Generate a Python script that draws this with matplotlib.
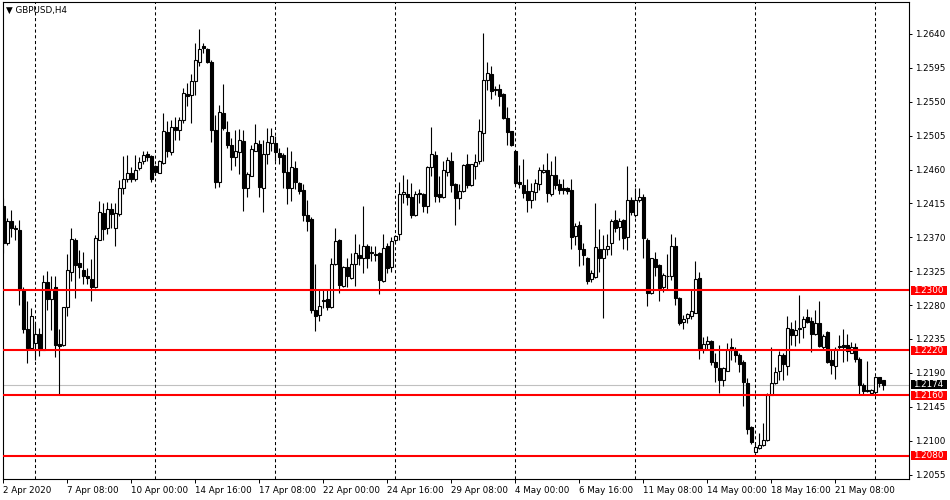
import numpy as np
import matplotlib.pyplot as plt
from matplotlib.patches import Rectangle
from matplotlib.transforms import blended_transform_factory

# GBPUSD H4 candles (open, high, low, close)
opens = [1.2412, 1.2362, 1.2391, 1.2383, 1.2380, 1.2300, 1.2248, 1.2223, 1.2229, 1.2241,
         1.2221, 1.2310, 1.2288, 1.2304, 1.2228, 1.2227, 1.2277, 1.2324, 1.2366, 1.2336,
         1.2327, 1.2319, 1.2315, 1.2304, 1.2367, 1.2402, 1.2383, 1.2407, 1.2382, 1.2401,
         1.2435, 1.2448, 1.2456, 1.2447, 1.2462, 1.2471, 1.2480, 1.2478, 1.2465, 1.2456,
         1.2469, 1.2510, 1.2483, 1.2516, 1.2513, 1.2526, 1.2560, 1.2559, 1.2578, 1.2603,
         1.2624, 1.2620, 1.2603, 1.2513, 1.2444, 1.2535, 1.2510, 1.2492, 1.2476, 1.2483,
         1.2498, 1.2436, 1.2452, 1.2485, 1.2494, 1.2436, 1.2480, 1.2495, 1.2495, 1.2482,
         1.2479, 1.2457, 1.2436, 1.2462, 1.2442, 1.2433, 1.2400, 1.2394, 1.2273, 1.2267,
         1.2287, 1.2288, 1.2278, 1.2334, 1.2366, 1.2306, 1.2330, 1.2316, 1.2334, 1.2347,
         1.2343, 1.2358, 1.2350, 1.2348, 1.2349, 1.2312, 1.2358, 1.2330, 1.2366, 1.2374,
         1.2427, 1.2428, 1.2423, 1.2399, 1.2429, 1.2428, 1.2411, 1.2464, 1.2479, 1.2427,
         1.2423, 1.2457, 1.2471, 1.2441, 1.2422, 1.2431, 1.2468, 1.2439, 1.2465, 1.2471,
         1.2509, 1.2579, 1.2587, 1.2567, 1.2567, 1.2560, 1.2529, 1.2511, 1.2484, 1.2444,
         1.2440, 1.2431, 1.2420, 1.2430, 1.2441, 1.2457, 1.2460, 1.2428, 1.2453, 1.2441,
         1.2436, 1.2435, 1.2433, 1.2372, 1.2386, 1.2354, 1.2343, 1.2314, 1.2317, 1.2355,
         1.2343, 1.2354, 1.2362, 1.2393, 1.2384, 1.2393, 1.2370, 1.2419, 1.2399, 1.2419,
         1.2423, 1.2367, 1.2296, 1.2341, 1.2333, 1.2304, 1.2318, 1.2319, 1.2358, 1.2289,
         1.2257, 1.2263, 1.2265, 1.2270, 1.2316, 1.2222, 1.2228, 1.2232, 1.2204, 1.2197,
         1.2180, 1.2193, 1.2225, 1.2219, 1.2214, 1.2205, 1.2177, 1.2118, 1.2085, 1.2090,
         1.2094, 1.2101, 1.2161, 1.2176, 1.2193, 1.2214, 1.2199, 1.2248, 1.2240, 1.2248,
         1.2251, 1.2264, 1.2259, 1.2241, 1.2256, 1.2225, 1.2244, 1.2207, 1.2199, 1.2224,
         1.2227, 1.2227, 1.2217, 1.2224, 1.2209, 1.2174, 1.2167, 1.2163, 1.2164, 1.2184,
         1.2180]
highs = [1.2422, 1.2396, 1.2406, 1.2386, 1.2393, 1.2304, 1.2285, 1.2276, 1.2256, 1.2249,
         1.2320, 1.2325, 1.2318, 1.2318, 1.2248, 1.2278, 1.2348, 1.2382, 1.2369, 1.2353,
         1.2350, 1.2329, 1.2341, 1.2373, 1.2418, 1.2415, 1.2417, 1.2415, 1.2415, 1.2446,
         1.2478, 1.2479, 1.2464, 1.2479, 1.2477, 1.2484, 1.2484, 1.2479, 1.2466, 1.2473,
         1.2535, 1.2524, 1.2526, 1.2530, 1.2530, 1.2568, 1.2575, 1.2587, 1.2628, 1.2646,
         1.2628, 1.2621, 1.2606, 1.2533, 1.2546, 1.2573, 1.2525, 1.2502, 1.2513, 1.2514,
         1.2513, 1.2457, 1.2493, 1.2521, 1.2499, 1.2499, 1.2515, 1.2515, 1.2504, 1.2488,
         1.2482, 1.2490, 1.2485, 1.2471, 1.2444, 1.2441, 1.2420, 1.2397, 1.2335, 1.2302,
         1.2302, 1.2302, 1.2342, 1.2383, 1.2368, 1.2332, 1.2342, 1.2349, 1.2374, 1.2361,
         1.2412, 1.2361, 1.2358, 1.2358, 1.2350, 1.2375, 1.2363, 1.2370, 1.2373, 1.2444,
         1.2453, 1.2448, 1.2442, 1.2431, 1.2434, 1.2429, 1.2465, 1.2516, 1.2485, 1.2452,
         1.2471, 1.2477, 1.2483, 1.2442, 1.2441, 1.2468, 1.2480, 1.2468, 1.2480, 1.2527,
         1.2641, 1.2603, 1.2598, 1.2571, 1.2573, 1.2562, 1.2543, 1.2511, 1.2485, 1.2466,
         1.2474, 1.2448, 1.2442, 1.2447, 1.2464, 1.2468, 1.2482, 1.2471, 1.2478, 1.2448,
         1.2448, 1.2437, 1.2448, 1.2389, 1.2392, 1.2362, 1.2344, 1.2327, 1.2415, 1.2381,
         1.2373, 1.2375, 1.2394, 1.2406, 1.2395, 1.2394, 1.2465, 1.2424, 1.2435, 1.2435,
         1.2428, 1.2369, 1.2343, 1.2351, 1.2335, 1.2322, 1.2348, 1.2375, 1.2371, 1.2291,
         1.2267, 1.2270, 1.2300, 1.2338, 1.2324, 1.2238, 1.2239, 1.2234, 1.2216, 1.2227,
         1.2198, 1.2230, 1.2236, 1.2225, 1.2216, 1.2207, 1.2183, 1.2119, 1.2098, 1.2110,
         1.2124, 1.2163, 1.2224, 1.2198, 1.2219, 1.2216, 1.2266, 1.2258, 1.2260, 1.2293,
         1.2265, 1.2275, 1.2264, 1.2274, 1.2286, 1.2242, 1.2245, 1.2220, 1.2225, 1.2240,
         1.2248, 1.2242, 1.2231, 1.2230, 1.2211, 1.2176, 1.2206, 1.2169, 1.2186, 1.2185,
         1.2181]
lows = [1.2349, 1.2360, 1.2371, 1.2366, 1.2280, 1.2243, 1.2203, 1.2221, 1.2207, 1.2213,
        1.2220, 1.2273, 1.2247, 1.2211, 1.2162, 1.2226, 1.2266, 1.2312, 1.2290, 1.2316,
        1.2308, 1.2308, 1.2285, 1.2303, 1.2366, 1.2367, 1.2375, 1.2382, 1.2358, 1.2398,
        1.2428, 1.2443, 1.2443, 1.2445, 1.2460, 1.2468, 1.2471, 1.2444, 1.2453, 1.2455,
        1.2468, 1.2477, 1.2479, 1.2499, 1.2499, 1.2522, 1.2544, 1.2522, 1.2559, 1.2598,
        1.2615, 1.2601, 1.2497, 1.2435, 1.2437, 1.2513, 1.2488, 1.2459, 1.2465, 1.2454,
        1.2405, 1.2424, 1.2451, 1.2484, 1.2423, 1.2404, 1.2467, 1.2484, 1.2471, 1.2468,
        1.2435, 1.2414, 1.2418, 1.2434, 1.2427, 1.2391, 1.2378, 1.2270, 1.2245, 1.2259,
        1.2276, 1.2274, 1.2276, 1.2333, 1.2296, 1.2304, 1.2304, 1.2315, 1.2306, 1.2333,
        1.2322, 1.2329, 1.2338, 1.2338, 1.2295, 1.2310, 1.2323, 1.2324, 1.2364, 1.2366,
        1.2415, 1.2413, 1.2396, 1.2398, 1.2415, 1.2403, 1.2402, 1.2451, 1.2417, 1.2417,
        1.2422, 1.2452, 1.2430, 1.2386, 1.2408, 1.2430, 1.2435, 1.2438, 1.2448, 1.2468,
        1.2471, 1.2566, 1.2553, 1.2559, 1.2545, 1.2527, 1.2493, 1.2491, 1.2439, 1.2436,
        1.2422, 1.2403, 1.2409, 1.2420, 1.2433, 1.2455, 1.2417, 1.2425, 1.2434, 1.2428,
        1.2428, 1.2428, 1.2354, 1.2360, 1.2332, 1.2333, 1.2308, 1.2310, 1.2316, 1.2324,
        1.2263, 1.2347, 1.2346, 1.2377, 1.2366, 1.2355, 1.2353, 1.2400, 1.2397, 1.2417,
        1.2342, 1.2279, 1.2295, 1.2318, 1.2285, 1.2298, 1.2300, 1.2313, 1.2280, 1.2253,
        1.2248, 1.2256, 1.2262, 1.2269, 1.2208, 1.2216, 1.2220, 1.2200, 1.2178, 1.2163,
        1.2172, 1.2192, 1.2207, 1.2205, 1.2191, 1.2146, 1.2109, 1.2096, 1.2084, 1.2089,
        1.2093, 1.2100, 1.2160, 1.2175, 1.2180, 1.2180, 1.2187, 1.2227, 1.2226, 1.2230,
        1.2236, 1.2256, 1.2218, 1.2240, 1.2225, 1.2222, 1.2203, 1.2189, 1.2182, 1.2220,
        1.2204, 1.2206, 1.2216, 1.2205, 1.2160, 1.2160, 1.2165, 1.2162, 1.2162, 1.2171,
        1.2167]
closes = [1.2362, 1.2392, 1.2383, 1.2381, 1.2300, 1.2248, 1.2223, 1.2266, 1.2241, 1.2221,
          1.2310, 1.2288, 1.2302, 1.2227, 1.2226, 1.2277, 1.2327, 1.2368, 1.2333, 1.2330,
          1.2319, 1.2316, 1.2304, 1.2369, 1.2403, 1.2381, 1.2407, 1.2401, 1.2402, 1.2436,
          1.2447, 1.2456, 1.2447, 1.2460, 1.2470, 1.2479, 1.2476, 1.2448, 1.2457, 1.2471,
          1.2511, 1.2484, 1.2516, 1.2513, 1.2526, 1.2561, 1.2558, 1.2578, 1.2606, 1.2620,
          1.2621, 1.2603, 1.2513, 1.2444, 1.2536, 1.2515, 1.2493, 1.2476, 1.2484, 1.2499,
          1.2436, 1.2454, 1.2487, 1.2495, 1.2437, 1.2480, 1.2496, 1.2505, 1.2483, 1.2477,
          1.2457, 1.2436, 1.2463, 1.2444, 1.2432, 1.2399, 1.2392, 1.2274, 1.2265, 1.2279,
          1.2285, 1.2277, 1.2335, 1.2365, 1.2307, 1.2330, 1.2318, 1.2335, 1.2349, 1.2342,
          1.2358, 1.2343, 1.2349, 1.2346, 1.2313, 1.2356, 1.2329, 1.2365, 1.2372, 1.2428,
          1.2430, 1.2423, 1.2399, 1.2428, 1.2428, 1.2411, 1.2464, 1.2480, 1.2425, 1.2423,
          1.2460, 1.2472, 1.2439, 1.2422, 1.2432, 1.2466, 1.2439, 1.2467, 1.2470, 1.2511,
          1.2579, 1.2588, 1.2564, 1.2565, 1.2558, 1.2529, 1.2510, 1.2492, 1.2442, 1.2441,
          1.2429, 1.2420, 1.2431, 1.2442, 1.2459, 1.2460, 1.2429, 1.2453, 1.2439, 1.2433,
          1.2433, 1.2432, 1.2371, 1.2385, 1.2355, 1.2346, 1.2312, 1.2322, 1.2357, 1.2342,
          1.2354, 1.2358, 1.2392, 1.2383, 1.2392, 1.2369, 1.2419, 1.2403, 1.2420, 1.2423,
          1.2369, 1.2296, 1.2342, 1.2330, 1.2303, 1.2320, 1.2319, 1.2358, 1.2289, 1.2256,
          1.2262, 1.2268, 1.2272, 1.2315, 1.2222, 1.2228, 1.2232, 1.2205, 1.2198, 1.2180,
          1.2196, 1.2220, 1.2221, 1.2214, 1.2202, 1.2178, 1.2115, 1.2098, 1.2091, 1.2094,
          1.2101, 1.2161, 1.2176, 1.2191, 1.2214, 1.2202, 1.2249, 1.2240, 1.2247, 1.2250,
          1.2262, 1.2257, 1.2242, 1.2256, 1.2226, 1.2239, 1.2205, 1.2200, 1.2222, 1.2226,
          1.2225, 1.2219, 1.2224, 1.2208, 1.2174, 1.2166, 1.2166, 1.2167, 1.2184, 1.2177,
          1.2174]

# time labels every 16 bars
tick_bars = [0, 16, 32, 48, 64, 80, 96, 112, 128, 144, 160, 176, 192, 208]
tick_labels = ['2 Apr 2020', '7 Apr 08:00', '10 Apr 00:00', '14 Apr 16:00', '17 Apr 08:00',
               '22 Apr 00:00', '24 Apr 16:00', '29 Apr 08:00', '4 May 00:00', '6 May 16:00',
               '11 May 08:00', '14 May 00:00', '18 May 16:00', '21 May 08:00']
grid_bars = [8, 38, 68, 98, 128, 158, 188, 218]
levels = [1.2300, 1.2220, 1.2160, 1.2080]
price_ticks = [1.2055, 1.2100, 1.2145, 1.2190, 1.2235, 1.2280, 1.2325, 1.2370,
               1.2415, 1.2460, 1.2505, 1.2550, 1.2595, 1.2640]
bid = 1.2174

W, H = 950, 500
fig = plt.figure(figsize=(W / 100, H / 100), dpi=100)
left_px, right_px, top_px, bot_px = 2.5, 909, 1.5, 479.3
ax = fig.add_axes([left_px / W, 1 - bot_px / H, (right_px - left_px) / W, (bot_px - top_px) / H])

x = np.arange(len(opens))
o = np.array(opens)
c = np.array(closes)
hi = np.array(highs)
lo = np.array(lows)
up = c >= o

ax.axhline(bid, color='#c0c0c0', lw=0.8, zorder=1)
for g in grid_bars:
    ax.axvline(g, color='black', lw=0.75, ls=(0, (3, 2.5)), zorder=1)

ax.vlines(x, lo, hi, color='black', lw=0.8, zorder=2)
body = np.maximum(np.abs(c - o), 0.00003)
ax.bar(x, body, bottom=np.minimum(o, c), width=0.62,
       color=np.where(up, 'white', 'black'), edgecolor='black', linewidth=0.8, zorder=3)

for lv in levels:
    ax.axhline(lv, color='#ff0000', lw=1.5, zorder=4)

# price range: 0.75 px per pip
ax.set_xlim(-0.2, -0.2 + (right_px - left_px) / 4)
ax.set_ylim(1.204866, 1.268313)

ax.yaxis.tick_right()
ax.set_yticks(price_ticks)
ax.set_yticklabels([f'{p:.4f}' for p in price_ticks])
ax.tick_params(axis='y', direction='out', length=2.5, width=0.7, pad=1.5, labelsize=6.3)
ax.set_xticks(tick_bars)
ax.set_xticklabels(tick_labels, ha='left')
ax.tick_params(axis='x', direction='out', length=3, width=0.7, pad=1.5, labelsize=6.3)
for s in ax.spines.values():
    s.set_linewidth(0.8)

# price labels on the axis
tr = blended_transform_factory(ax.transAxes, ax.transData)
axw = right_px - left_px
bx0 = (911 - left_px) / axw
bw = 36 / axw
bh = 9 * 0.0001328
for lv, fc in [(l, '#ff0000') for l in levels] + [(bid, 'black')]:
    ax.add_patch(Rectangle((bx0, lv - bh / 2), bw, bh, transform=tr, facecolor=fc,
                           edgecolor='none', clip_on=False, zorder=5))
    ax.text((913.5 - left_px) / axw, lv, f'{lv:.4f}', transform=tr, fontsize=6.3,
            color='white', ha='left', va='center', zorder=6, clip_on=False)

ax.text(4 / axw, 1 - 9 / (bot_px - top_px), '\u25bc GBPUSD,H4', transform=ax.transAxes,
        fontsize=6.3, ha='left', va='center', color='black')

fig.savefig('out.png', dpi=100, facecolor='white')
